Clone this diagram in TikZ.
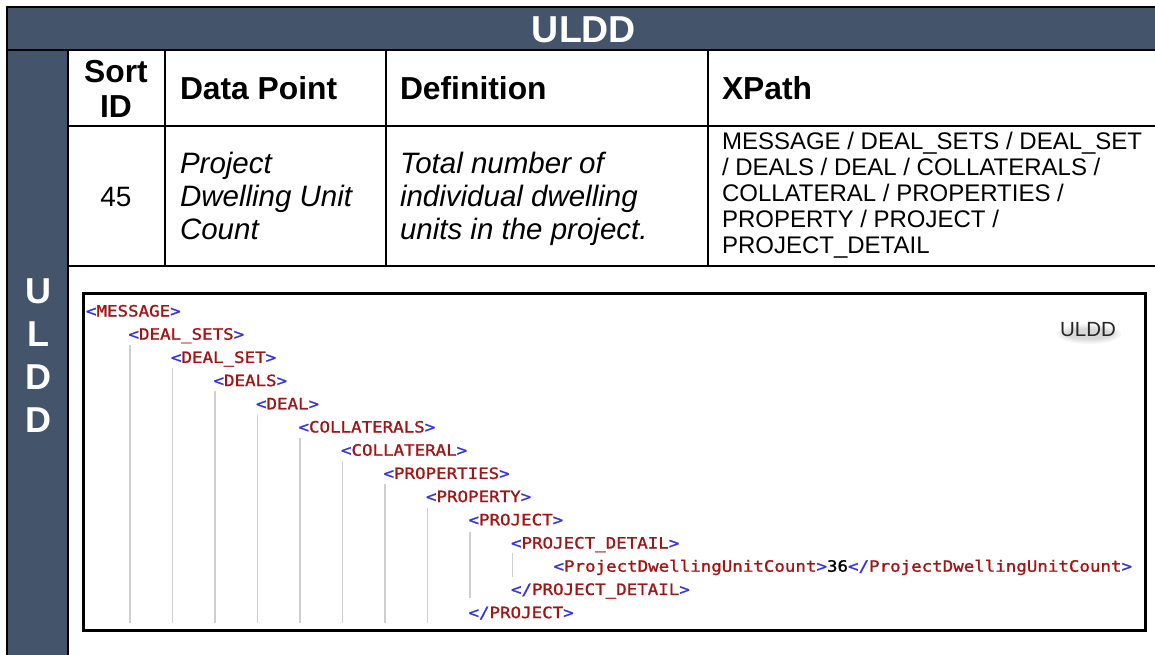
\documentclass[tikz,border=0pt]{standalone}
\usepackage{fontspec}
\setmainfont{Liberation Sans}
\newfontfamily\codefont[FakeStretch=1.12,FakeBold=1.2]{DejaVu Sans Mono}
\definecolor{hdr}{HTML}{44546A}
\definecolor{tagb}{RGB}{50,50,235}
\definecolor{tagr}{HTML}{A31515}
\definecolor{guidegray}{HTML}{CFCFCF}
\newcommand\tg[1]{{\color{tagb}<}{\color{tagr}#1}{\color{tagb}>}}
\newcommand\ctg[1]{{\color{tagb}</}{\color{tagr}#1}{\color{tagb}>}}
\newcommand\codeline[4]{\node[codetxt] (#1) at ({86+42.5*#2},{316.5+23.2*#3}) {#4};}
\newcommand\guide[3]{\draw[guideline] ({87.5+42.5*#1},{#2}) -- ({87.5+42.5*#1},{#3});}
\tikzset{
  txt/.style={inner sep=0pt, outer sep=0pt},
  headtxt/.style={txt, anchor=base west, font=\fontsize{31.8}{31.8}\selectfont\bfseries},
  celltxt/.style={txt, anchor=base west, font=\fontsize{29.5}{29.5}\selectfont\itshape},
  xptxt/.style={txt, anchor=base west, font=\fontsize{24}{24}\selectfont},
  codetxt/.style={txt, anchor=base west, font=\fontsize{15.6}{15.6}\codefont},
  vlabel/.style={txt, text=white, font=\fontsize{36}{36}\selectfont\bfseries},
  rule/.style={line width=2.5pt, black},
  guideline/.style={line width=1.6pt, guidegray},
}
\begin{document}
\begin{tikzpicture}[x=1pt, y=-1pt]
\useasboundingbox (0,0) rectangle (1155,655);
\fill[white] (0,0) rectangle (1155,655);
% dark bands
\fill[hdr] (7,7) rectangle (1155,50);
\fill[hdr] (7,50) rectangle (68,655);
% rules
\draw[rule] (7,655) -- (7,7) -- (1155,7);
\draw[rule] (7,50) -- (1155,50);
\draw[rule] (68,126) -- (1155,126);
\draw[rule] (68,266) -- (1155,266);
\draw[rule] (68,50) -- (68,655);
\draw[rule] (165,50) -- (165,266);
\draw[rule] (386,50) -- (386,266);
\draw[rule] (708,50) -- (708,266);
% title
\node[txt, text=white, font=\fontsize{37.5}{37.5}\selectfont\bfseries] (title) at (584,30) {ULDD};
% vertical label
\node[vlabel] (v1) at (38,291) {U};
\node[vlabel] (v2) at (38,334) {L};
\node[vlabel] (v3) at (38,377) {D};
\node[vlabel] (v4) at (38,420) {D};
% column headers
\node[txt, anchor=base, font=\fontsize{31.8}{31.8}\selectfont\bfseries] (h1a) at (116,83) {Sort};
\node[txt, anchor=base, font=\fontsize{31.8}{31.8}\selectfont\bfseries] (h1b) at (116,118) {ID};
\node[headtxt] (h2) at (180,100) {Data Point};
\node[headtxt] (h3) at (400,100) {Definition};
\node[headtxt] (h4) at (722,100) {XPath};
% data row
\node[txt, anchor=base, font=\fontsize{28}{28}\selectfont] (id) at (116,206) {45};
\node[celltxt] (dp1) at (180,173) {Project};
\node[celltxt] (dp2) at (180,206) {Dwelling Unit};
\node[celltxt] (dp3) at (180,239) {Count};
\node[celltxt] (df1) at (400,173) {Total number of};
\node[celltxt] (df2) at (400,206) {individual dwelling};
\node[celltxt] (df3) at (400,239) {units in the project.};
\node[xptxt] (xp1) at (722,149.5) {MESSAGE / DEAL\_SETS / DEAL\_SET};
\node[xptxt] (xp2) at (722,175.5) {/ DEALS / DEAL / COLLATERALS /};
\node[xptxt] (xp3) at (722,201.5) {COLLATERAL / PROPERTIES /};
\node[xptxt] (xp4) at (722,227.5) {PROPERTY / PROJECT /};
\node[xptxt] (xp5) at (722,253.5) {PROJECT\_DETAIL};
% code box
\draw[line width=3pt] (83.5,293) rectangle (1145,630.5);
% soft shadow under label
\foreach \r/\h in {32/10, 29/8.5, 26/7, 23/5.5}
  \fill[black, opacity=0.04] (1089,334) ellipse [x radius=\r pt, y radius=\h pt];
\node[txt, text=black!85, font=\fontsize{20.5}{20.5}\selectfont] (ul) at (1088,330) {ULDD};
% guide lines
\guide{1}{345}{623}
\guide{2}{368}{623}
\guide{3}{391}{623}
\guide{4}{415}{623}
\guide{5}{438}{623}
\guide{6}{461}{623}
\guide{7}{484}{623}
\guide{8}{508}{623}
\guide{9}{532}{598}
\guide{10}{553}{577}
% code lines
\codeline{c0}{0}{0}{\tg{MESSAGE}}
\codeline{c1}{1}{1}{\tg{DEAL\_SETS}}
\codeline{c2}{2}{2}{\tg{DEAL\_SET}}
\codeline{c3}{3}{3}{\tg{DEALS}}
\codeline{c4}{4}{4}{\tg{DEAL}}
\codeline{c5}{5}{5}{\tg{COLLATERALS}}
\codeline{c6}{6}{6}{\tg{COLLATERAL}}
\codeline{c7}{7}{7}{\tg{PROPERTIES}}
\codeline{c8}{8}{8}{\tg{PROPERTY}}
\codeline{c9}{9}{9}{\tg{PROJECT}}
\codeline{c10}{10}{10}{\tg{PROJECT\_DETAIL}}
\codeline{c11}{11}{11}{\tg{ProjectDwellingUnitCount}36\ctg{ProjectDwellingUnitCount}}
\codeline{c12}{10}{12}{\ctg{PROJECT\_DETAIL}}
\codeline{c13}{9}{13}{\ctg{PROJECT}}
\end{tikzpicture}
\end{document}
